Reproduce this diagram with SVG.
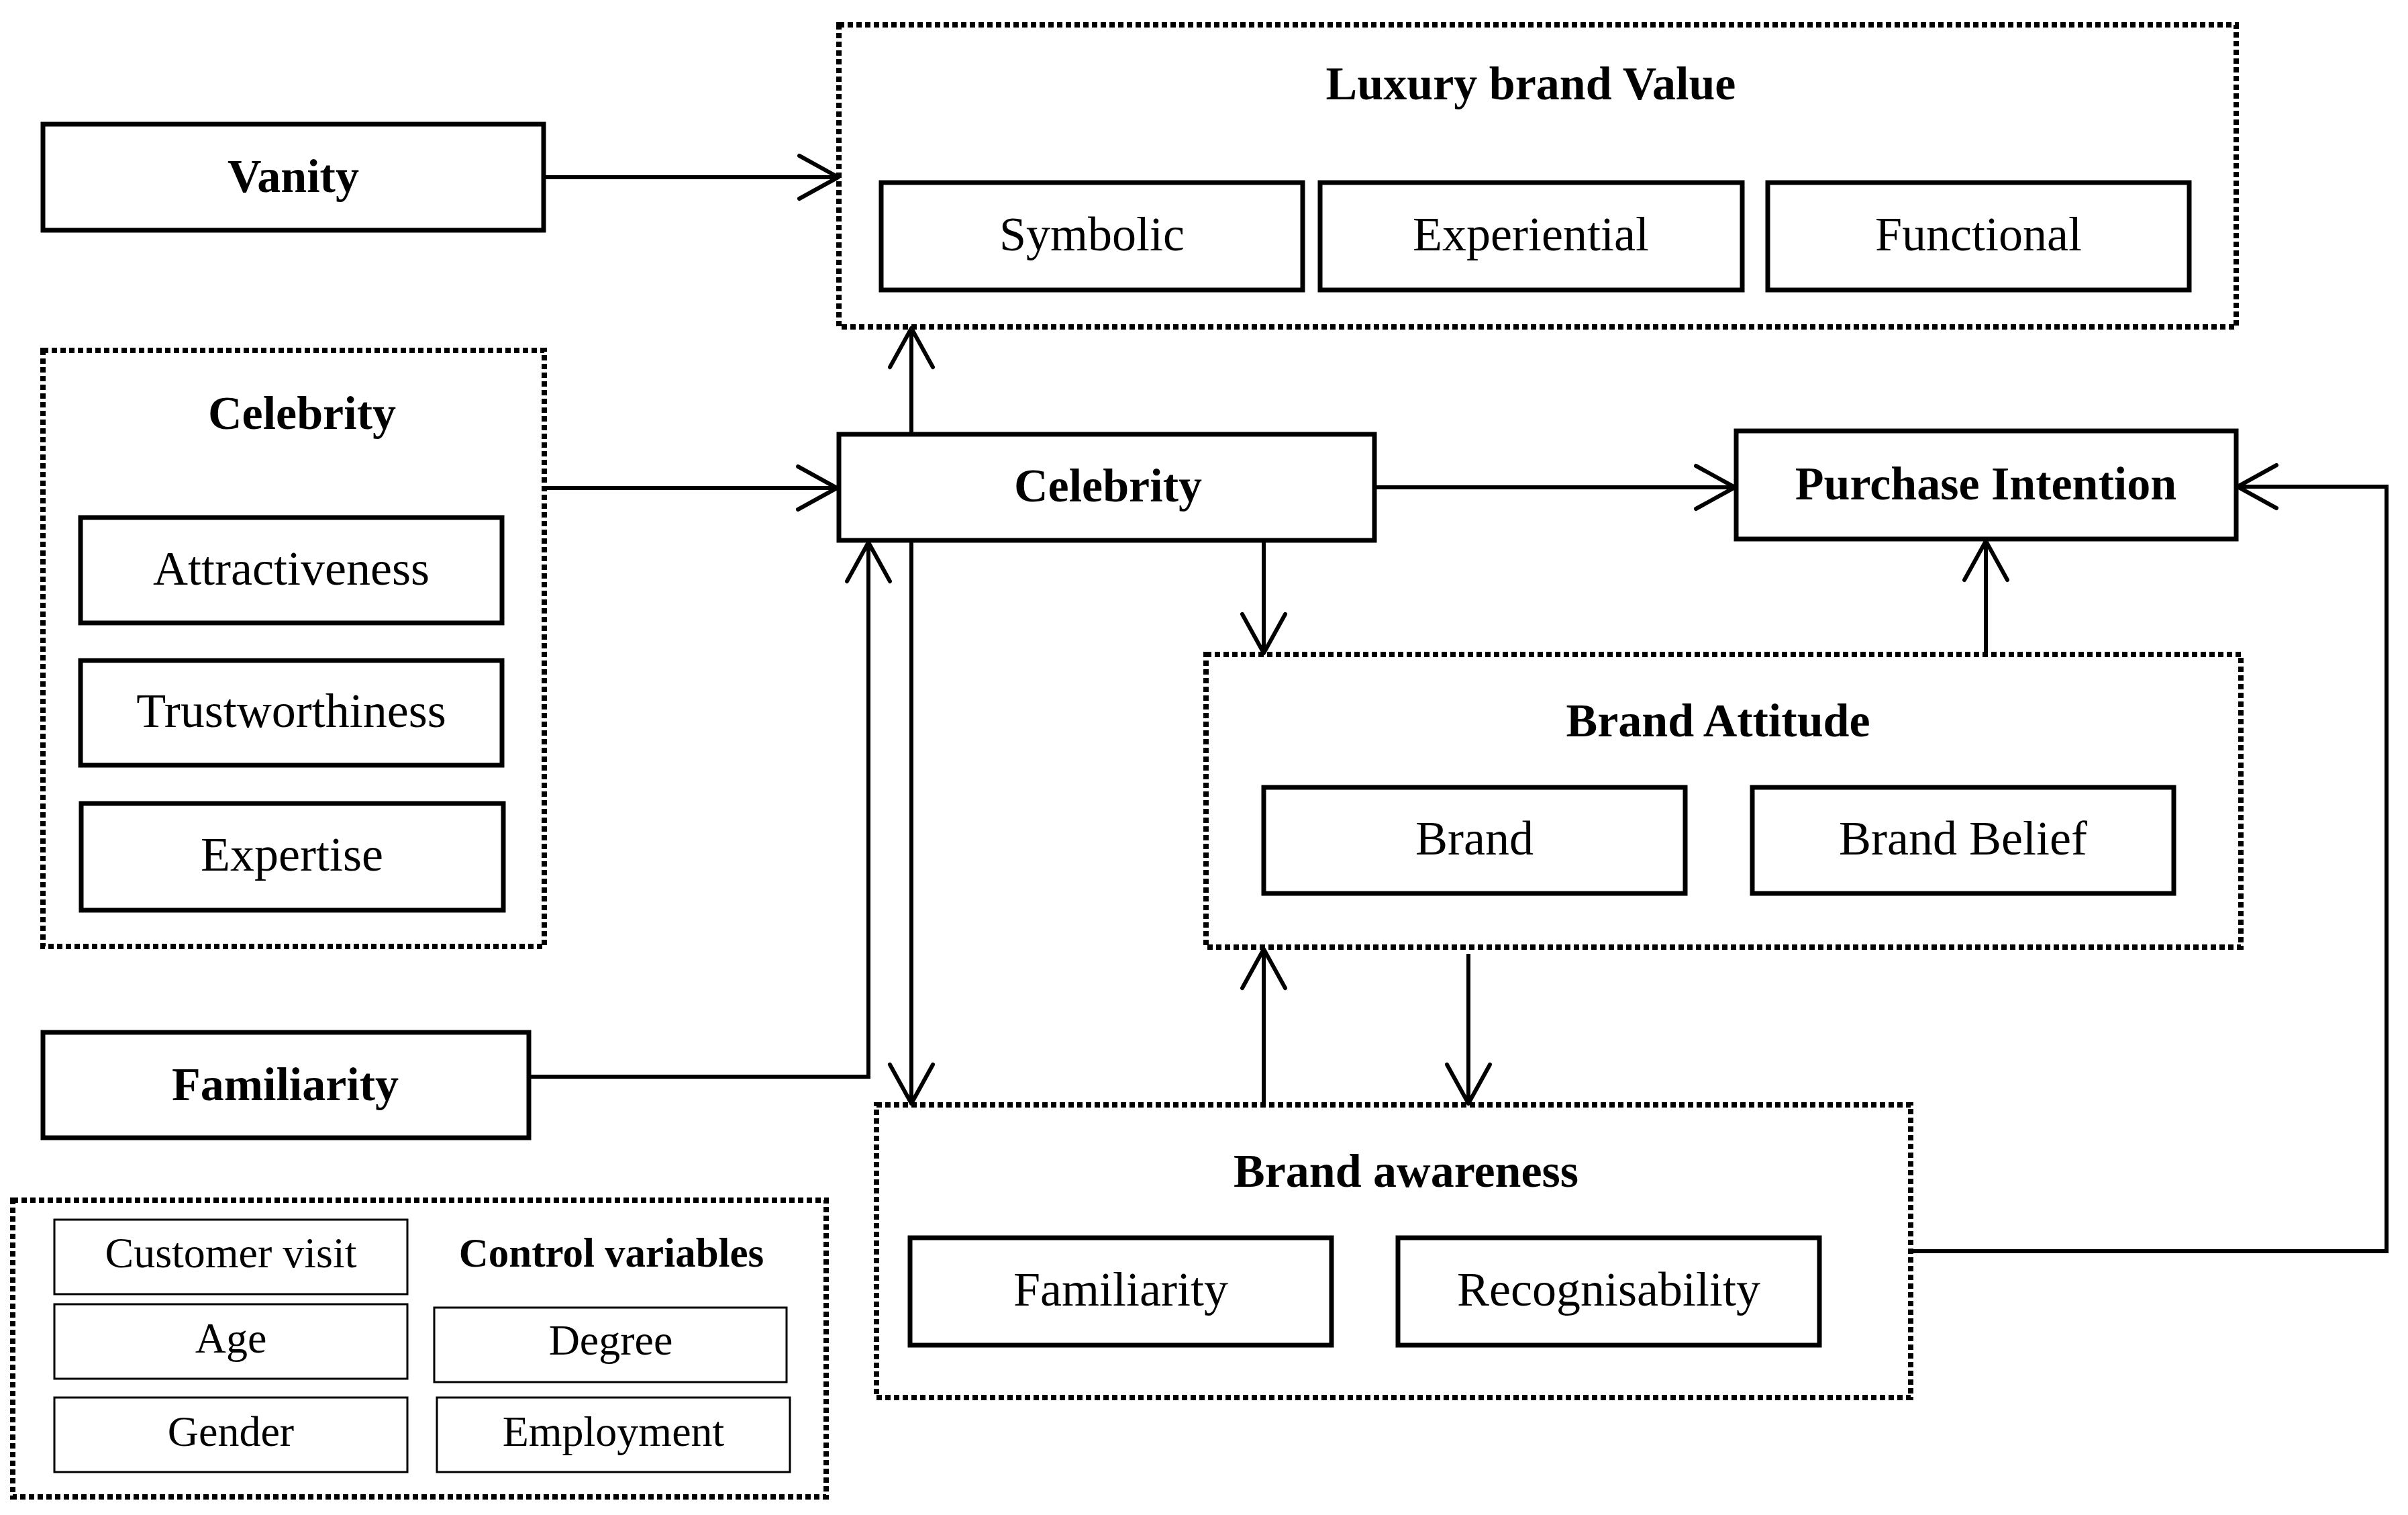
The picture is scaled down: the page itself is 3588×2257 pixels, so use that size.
<svg xmlns="http://www.w3.org/2000/svg" width="3588" height="2257" viewBox="0 0 3588 2257">
<style>
.bg{fill:#fff}
.box{fill:#fff;stroke:#000;stroke-width:7}
.thin{fill:#fff;stroke:#000;stroke-width:3}
.grp{fill:none;stroke:#000;stroke-width:8;stroke-dasharray:8 5}
.t{font-family:"Liberation Serif","Times New Roman",serif;font-size:72px;text-anchor:middle;fill:#000}
.b{font-family:"Liberation Serif","Times New Roman",serif;font-size:70px;font-weight:bold;text-anchor:middle;fill:#000}
.ts{font-family:"Liberation Serif","Times New Roman",serif;font-size:64px;text-anchor:middle;fill:#000}
.bs{font-family:"Liberation Serif","Times New Roman",serif;font-size:61px;font-weight:bold;text-anchor:middle;fill:#000}
.c{fill:none;stroke:#000;stroke-width:6}
</style>
<defs>
<marker id="arr" markerUnits="userSpaceOnUse" markerWidth="80" markerHeight="80" refX="62" refY="40" orient="auto" overflow="visible">
<path d="M4,8 L62,40 L4,72" fill="none" stroke="#000" stroke-width="6" stroke-linecap="round" stroke-linejoin="round"/>
</marker>
</defs>
<rect class="bg" x="0" y="0" width="3588" height="2257"/>

<g id="luxury-brand-value">
<rect class="grp" x="1250" y="37" width="2082" height="450"/>
<text class="b" x="2281" y="148">Luxury brand Value</text>
<rect class="box" x="1313" y="272" width="628" height="160"/>
<text class="t" x="1627" y="373">Symbolic</text>
<rect class="box" x="1967" y="272" width="629" height="160"/>
<text class="t" x="2281" y="373">Experiential</text>
<rect class="box" x="2634" y="272" width="628" height="160"/>
<text class="t" x="2948" y="373">Functional</text>
</g>

<g id="vanity">
<rect class="box" x="64" y="185" width="746" height="158"/>
<text class="b" x="437" y="286">Vanity</text>
</g>

<g id="celebrity-group">
<rect class="grp" x="64" y="522" width="747" height="888"/>
<text class="b" x="450" y="639">Celebrity</text>
<rect class="box" x="120" y="771" width="628" height="157"/>
<text class="t" x="434" y="871">Attractiveness</text>
<rect class="box" x="120" y="984" width="628" height="156"/>
<text class="t" x="434" y="1083">Trustworthiness</text>
<rect class="box" x="121" y="1197" width="629" height="159"/>
<text class="t" x="435" y="1297">Expertise</text>
</g>

<g id="celebrity">
<rect class="box" x="1250" y="647" width="798" height="158"/>
<text class="b" x="1651" y="747">Celebrity</text>
</g>

<g id="purchase-intention">
<rect class="box" x="2587" y="642" width="745" height="161"/>
<text class="b" x="2959" y="744">Purchase Intention</text>
</g>

<g id="brand-attitude">
<rect class="grp" x="1797" y="975" width="1542" height="436"/>
<text class="b" x="2560" y="1097">Brand Attitude</text>
<rect class="box" x="1883" y="1173" width="628" height="158"/>
<text class="t" x="2197" y="1273">Brand</text>
<rect class="box" x="2611" y="1173" width="628" height="158"/>
<text class="t" x="2925" y="1273">Brand Belief</text>
</g>

<g id="familiarity">
<rect class="box" x="64" y="1538" width="724" height="157"/>
<text class="b" x="425" y="1639">Familiarity</text>
</g>

<g id="brand-awareness">
<rect class="grp" x="1306" y="1646" width="1541" height="436"/>
<text class="b" x="2095" y="1768">Brand awareness</text>
<rect class="box" x="1356" y="1844" width="628" height="160"/>
<text class="t" x="1670" y="1945">Familiarity</text>
<rect class="box" x="2083" y="1844" width="628" height="160"/>
<text class="t" x="2397" y="1945">Recognisability</text>
</g>

<g id="control-variables">
<rect class="grp" x="19" y="1788" width="1212" height="442"/>
<rect class="thin" x="81" y="1817" width="526" height="111"/>
<text class="ts" x="344" y="1888">Customer visit</text>
<text class="bs" x="911" y="1887">Control variables</text>
<rect class="thin" x="81" y="1943" width="526" height="111"/>
<text class="ts" x="344" y="2015">Age</text>
<rect class="thin" x="647" y="1948" width="525" height="111"/>
<text class="ts" x="910" y="2018">Degree</text>
<rect class="thin" x="81" y="2082" width="526" height="111"/>
<text class="ts" x="344" y="2154">Gender</text>
<rect class="thin" x="651" y="2082" width="526" height="111"/>
<text class="ts" x="914" y="2154">Employment</text>
</g>

<g id="connectors">
<path class="c" d="M810,264 H1249" marker-end="url(#arr)"/>
<path class="c" d="M811,727 H1247" marker-end="url(#arr)"/>
<path class="c" d="M1358,647 V489" marker-end="url(#arr)"/>
<path class="c" d="M1358,805 V1644" marker-end="url(#arr)"/>
<path class="c" d="M788,1604 H1294 V808" marker-end="url(#arr)"/>
<path class="c" d="M2048,726 H2585" marker-end="url(#arr)"/>
<path class="c" d="M1883,805 V973" marker-end="url(#arr)"/>
<path class="c" d="M2959,978 V806" marker-end="url(#arr)"/>
<path class="c" d="M1883,1646 V1414" marker-end="url(#arr)"/>
<path class="c" d="M2188,1421 V1644" marker-end="url(#arr)"/>
<path class="c" d="M2847,1864 H3556 V725 H3334" marker-end="url(#arr)"/>
</g>
</svg>
